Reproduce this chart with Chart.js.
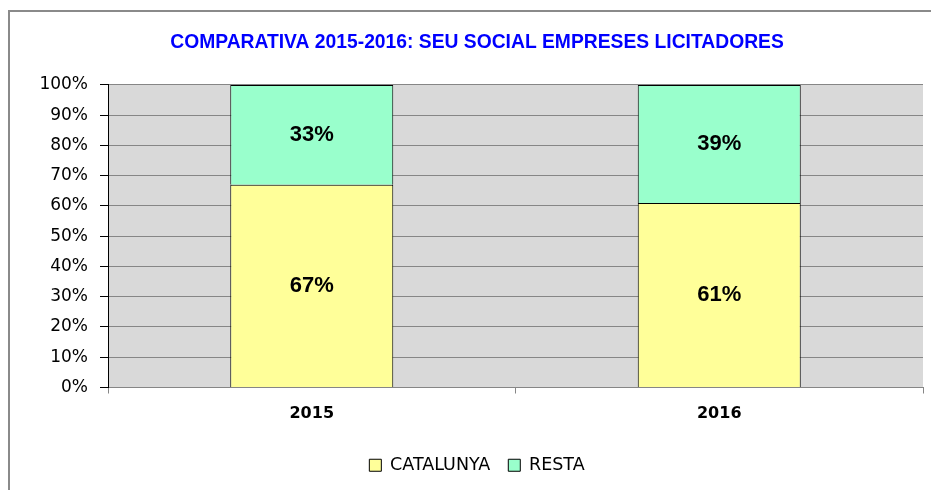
<!DOCTYPE html>
<html>
<head>
<meta charset="utf-8">
<script src="https://cdn.jsdelivr.net/npm/chart.js@4.4.1/dist/chart.umd.min.js"></script>
<style>
  html, body { margin: 0; padding: 0; background: #ffffff; overflow: hidden; }
  #wrap { position: relative; width: 931px; height: 490px; }
  #frame {
    position: absolute; left: 8px; top: 10px; width: 1000px; height: 600px;
    border-left: 2px solid #8a8a8a; border-top: 2px solid #8a8a8a;
    pointer-events: none;
  }
  canvas { position: absolute; left: 0; top: 0; }
</style>
</head>
<body>
<div id="wrap">
  <div id="frame"></div>
  <canvas id="chart" width="931" height="490"></canvas>
</div>
<script>
// Seu social de les empreses licitadores, en percentatge
const categories = ['2015', '2016'];
const catalunya = [67, 61];
const resta = [33, 39];
const seriesNames = ['CATALUNYA', 'RESTA'];

// Grey plot background
const plotBackground = {
  id: 'plotBackground',
  beforeDraw(chart) {
    const { ctx, chartArea } = chart;
    ctx.save();
    ctx.fillStyle = '#d9d9d9';
    ctx.fillRect(chartArea.left, chartArea.top, chartArea.right - chartArea.left, chartArea.bottom - chartArea.top);
    ctx.restore();
  }
};

// Percentage written in the middle of each stacked segment
const segmentLabels = {
  id: 'segmentLabels',
  afterDatasetsDraw(chart) {
    const { ctx } = chart;
    ctx.save();
    ctx.font = 'bold 22px "Liberation Sans", Arial, sans-serif';
    ctx.fillStyle = '#000000';
    ctx.textAlign = 'center';
    ctx.textBaseline = 'middle';
    chart.data.datasets.forEach((ds, i) => {
      const meta = chart.getDatasetMeta(i);
      meta.data.forEach((el, j) => {
        const p = el.getProps(['x', 'y', 'base'], true);
        ctx.fillText(ds.data[j] + '%', p.x, (p.y + p.base) / 2);
      });
    });
    ctx.restore();
  }
};

new Chart(document.getElementById('chart'), {
  type: 'bar',
  data: {
    labels: categories,
    datasets: [
      {
        label: seriesNames[0],
        data: catalunya,
        backgroundColor: '#ffff99',
        borderColor: '#000000',
        borderWidth: 1,
        barPercentage: 0.4,
        categoryPercentage: 1.0
      },
      {
        label: seriesNames[1],
        data: resta,
        backgroundColor: '#99ffcc',
        borderColor: '#000000',
        borderWidth: 1,
        barPercentage: 0.4,
        categoryPercentage: 1.0
      }
    ]
  },
  options: {
    responsive: false,
    animation: false,
    devicePixelRatio: 1,
    layout: { padding: { left: 31, right: 8, top: 0, bottom: 6 } },
    plugins: {
      title: {
        display: true,
        text: 'COMPARATIVA 2015-2016: SEU SOCIAL EMPRESES LICITADORES',
        color: '#0000ff',
        font: { family: '"Liberation Sans", Arial, sans-serif', size: 19.3, weight: 'bold' },
        padding: { top: 31.4, bottom: 30.4 }
      },
      legend: {
        position: 'bottom',
        labels: {
          color: '#000000',
          font: { family: '"DejaVu Sans", Verdana, sans-serif', size: 17.5 },
          boxWidth: 12,
          boxHeight: 12,
          padding: 18
        }
      },
      tooltip: { enabled: false }
    },
    scales: {
      x: {
        stacked: true,
        grid: {
          display: true,
          drawOnChartArea: false,
          drawTicks: true,
          tickLength: 6,
          tickColor: '#868686',
          offset: true
        },
        border: { display: true, color: '#868686', width: 1 },
        ticks: {
          color: '#000000',
          font: { family: '"DejaVu Sans", Verdana, sans-serif', size: 16, weight: 'bold' },
          padding: 11
        },
        afterFit(scale) { scale.height = 51; }
      },
      y: {
        stacked: true,
        min: 0,
        max: 100,
        grid: {
          color: '#868686',
          lineWidth: 1,
          drawTicks: true,
          tickLength: 8,
          tickColor: '#000000'
        },
        border: { display: true, color: '#000000', width: 1 },
        ticks: {
          stepSize: 10,
          color: '#000000',
          font: { family: '"DejaVu Sans", Verdana, sans-serif', size: 17 },
          padding: 12,
          callback: (v) => v + '%'
        },
        afterFit(scale) { scale.width = 77; }
      }
    }
  },
  plugins: [plotBackground, segmentLabels]
});
</script>
</body>
</html>
